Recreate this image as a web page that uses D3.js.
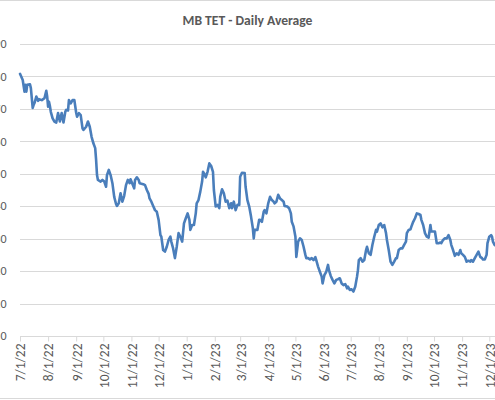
<!DOCTYPE html>
<html>
<head>
<meta charset="utf-8">
<script src="https://cdn.jsdelivr.net/npm/d3@7"></script>
<style>
  html, body { margin: 0; padding: 0; background: #fff; }
  #chart { width: 495px; height: 400px; overflow: hidden; }
  text { font-family: Calibri, Carlito, "Liberation Sans", Arial, sans-serif; fill: #595959; }
</style>
</head>
<body>
<div id="chart"></div>
<script>
// chart data
const title = "MB TET - Daily Average";

const dates = [
  "7/1/22","7/4/22","7/6/22","7/7/22","7/8/22","7/9/22","7/12/22","7/13/22","7/15/22","7/16/22",
  "7/17/22","7/19/22","7/21/22","7/22/22","7/25/22","7/28/22","7/30/22","7/31/22","8/1/22","8/2/22",
  "8/3/22","8/4/22","8/6/22","8/8/22","8/10/22","8/12/22","8/14/22","8/16/22","8/18/22","8/20/22",
  "8/21/22","8/23/22","8/24/22","8/26/22","8/28/22","8/30/22","9/1/22","9/2/22","9/4/22","9/6/22",
  "9/8/22","9/9/22","9/12/22","9/14/22","9/16/22","9/18/22","9/20/22","9/22/22","9/23/22","9/24/22",
  "9/25/22","9/28/22","9/30/22","10/2/22","10/4/22","10/5/22","10/7/22","10/9/22","10/11/22","10/13/22",
  "10/15/22","10/16/22","10/18/22","10/20/22","10/22/22","10/24/22","10/26/22","10/28/22","10/30/22","10/31/22",
  "11/2/22","11/4/22","11/5/22","11/7/22","11/9/22","11/10/22","11/14/22","11/16/22","11/18/22","11/20/22",
  "11/21/22","11/23/22","11/25/22","11/27/22","11/29/22","12/1/22","12/3/22","12/4/22","12/6/22","12/8/22",
  "12/10/22","12/12/22","12/14/22","12/15/22","12/17/22","12/19/22","12/21/22","12/23/22","12/25/22","12/27/22",
  "12/29/22","12/31/22","1/2/23","1/4/23","1/5/23","1/7/23","1/9/23","1/11/23","1/12/23","1/14/23",
  "1/16/23","1/18/23","1/19/23","1/20/23","1/22/23","1/24/23","1/26/23","1/28/23","1/30/23","1/31/23",
  "2/2/23","2/4/23","2/6/23","2/7/23","2/9/23","2/11/23","2/13/23","2/15/23","2/17/23","2/19/23",
  "2/20/23","2/22/23","2/24/23","2/26/23","2/28/23","3/1/23","3/3/23","3/6/23","3/7/23","3/9/23",
  "3/11/23","3/13/23","3/15/23","3/16/23","3/17/23","3/20/23","3/22/23","3/23/23","3/25/23","3/27/23",
  "3/28/23","3/30/23","4/1/23","4/3/23","4/5/23","4/7/23","4/8/23","4/10/23","4/12/23","4/14/23",
  "4/16/23","4/18/23","4/19/23","4/22/23","4/24/23","4/26/23","4/27/23","4/29/23","5/1/23","5/2/23",
  "5/4/23","5/6/23","5/8/23","5/10/23","5/12/23","5/13/23","5/15/23","5/17/23","5/19/23","5/21/23",
  "5/23/23","5/24/23","5/26/23","5/28/23","5/30/23","5/31/23","6/2/23","6/4/23","6/6/23","6/7/23",
  "6/9/23","6/11/23","6/13/23","6/15/23","6/17/23","6/19/23","6/21/23","6/23/23","6/25/23","6/27/23",
  "6/28/23","6/30/23","7/2/23","7/4/23","7/6/23","7/8/23","7/9/23","7/10/23","7/12/23","7/14/23",
  "7/16/23","7/18/23","7/19/23","7/21/23","7/23/23","7/25/23","7/27/23","7/29/23","7/30/23","8/1/23",
  "8/3/23","8/5/23","8/7/23","8/9/23","8/10/23","8/12/23","8/14/23","8/16/23","8/18/23","8/20/23",
  "8/21/23","8/23/23","8/25/23","8/27/23","8/29/23","8/31/23","9/1/23","9/3/23","9/5/23","9/6/23",
  "9/8/23","9/10/23","9/12/23","9/14/23","9/16/23","9/17/23","9/19/23","9/21/23","9/23/23","9/25/23",
  "9/27/23","9/28/23","9/30/23","10/2/23","10/4/23","10/6/23","10/8/23","10/9/23","10/11/23","10/13/23",
  "10/15/23","10/17/23","10/19/23","10/20/23","10/22/23","10/24/23","10/26/23","10/28/23","10/30/23","10/31/23",
  "11/2/23","11/4/23","11/6/23","11/8/23","11/10/23","11/11/23","11/13/23","11/15/23","11/17/23","11/19/23",
  "11/21/23","11/23/23","11/24/23","11/26/23","11/28/23","11/29/23","12/1/23","12/3/23","12/4/23","12/5/23",
  "12/7/23"
];

const values = [
  80.8,78.9,75.3,77.4,75.3,77.4,77.6,76.4,70.3,71.2,
  71.8,73.8,72.5,73.0,72.7,73.3,75.6,73.8,70.7,72.2,
  70.9,69.1,67.1,66.1,65.8,68.7,66.1,68.7,65.8,69.1,
  69.7,69.5,72.7,71.7,72.7,72.7,68.8,67.6,68.7,68.1,
  64.0,63.5,64.5,66.1,64.5,61.4,59.4,57.9,54.3,49.6,
  48.1,47.6,48.1,47.6,46.0,49.6,51.2,49.6,47.1,42.9,
  40.7,40.1,40.9,44.0,41.4,43.2,46.5,48.1,47.1,48.3,
  46.9,45.5,48.1,48.9,48.1,47.1,46.8,46.5,45.0,43.8,
  42.4,41.4,40.1,38.8,38.3,35.8,31.1,30.6,26.5,26.0,
  27.5,29.6,30.6,29.1,27.0,24.0,27.5,31.7,30.6,29.1,
  34.7,36.3,37.8,35.8,32.7,34.2,34.2,37.8,40.9,41.9,
  44.5,47.6,50.6,50.2,48.9,50.6,53.2,52.4,50.6,45.0,
  39.9,40.4,39.4,42.9,45.2,44.0,41.4,41.7,39.4,40.9,
  39.4,41.4,38.8,40.4,40.4,49.1,50.3,50.2,46.0,41.9,
  39.9,36.8,33.2,30.1,32.7,32.7,35.8,35.8,35.2,38.3,
  38.8,37.8,40.9,42.9,41.9,41.4,40.9,41.4,43.5,42.4,
  41.9,41.4,40.1,39.9,39.4,37.8,35.2,33.7,30.6,24.4,
  29.1,30.1,29.6,27.5,25.0,24.0,24.0,23.6,24.0,23.4,
  24.3,23.4,21.4,19.8,18.3,16.2,18.8,19.8,21.9,20.3,
  18.5,17.3,16.2,17.3,17.5,17.8,16.2,15.7,16.0,14.7,
  15.2,14.2,14.4,13.7,15.2,18.3,20.3,23.4,24.0,22.9,
  23.4,26.5,27.5,25.5,25.0,28.1,30.6,32.7,32.2,34.2,
  34.7,33.5,34.2,31.7,29.6,26.5,22.9,21.9,22.9,24.0,
  24.0,26.5,27.0,27.0,28.1,29.1,31.7,32.7,32.9,33.7,
  35.2,36.3,37.8,37.6,37.3,35.8,34.2,31.7,30.6,30.3,
  34.2,32.2,32.2,32.2,28.6,28.6,28.8,28.6,29.6,30.1,
  30.1,31.1,29.6,28.1,26.5,24.7,25.5,25.0,26.5,25.5,
  25.0,24.4,22.9,23.2,22.9,23.4,22.9,24.0,25.0,26.0,
  24.4,24.0,23.6,23.6,25.0,28.6,30.6,31.1,30.6,29.1,
  28.0
];

const xTickLabels = ["7/1/22","8/1/22","9/1/22","10/1/22","11/1/22","12/1/22","1/1/23","2/1/23","3/1/23",
  "4/1/23","5/1/23","6/1/23","7/1/23","8/1/23","9/1/23","10/1/23","11/1/23","12/1/23"];
const yTicks = [0, 10, 20, 30, 40, 50, 60, 70, 80, 90];

const width = 495, height = 400;
const plotLeft = 20, plotTop = 44, plotBottom = 336;

const parse = d3.timeParse("%m/%d/%y");
const data = dates.map((d, i) => ({ date: parse(d), value: values[i] }));
const tickDates = xTickLabels.map(parse);

const svg = d3.select("#chart").append("svg")
  .attr("width", width)
  .attr("height", height);

// chart border (only top and bottom edges are inside the frame)
svg.append("line").attr("x1", 0).attr("x2", width).attr("y1", 0.5).attr("y2", 0.5)
  .attr("stroke", "#d9d9d9");
svg.append("line").attr("x1", 0).attr("x2", width).attr("y1", 398.5).attr("y2", 398.5)
  .attr("stroke", "#d9d9d9");

const x = d3.scaleTime()
  .domain([tickDates[0], tickDates[tickDates.length - 1]])
  .range([plotLeft, 489.3]);

const y = d3.scaleLinear()
  .domain([0, 90])
  .range([plotBottom, plotTop]);

// title
svg.append("text")
  .attr("x", 247.5)
  .attr("y", 25)
  .attr("text-anchor", "middle")
  .style("font-size", "13.6px")
  .style("font-weight", "bold")
  .text(title);

// horizontal gridlines
svg.append("g")
  .selectAll("line")
  .data(yTicks.slice(1))
  .enter()
  .append("line")
  .attr("x1", plotLeft)
  .attr("x2", width)
  .attr("y1", d => Math.round(y(d)) + 0.5)
  .attr("y2", d => Math.round(y(d)) + 0.5)
  .attr("stroke", "#d9d9d9")
  .attr("stroke-width", 1);

// y axis labels: the frame cuts them at the left edge, only the last digit shows
svg.append("g")
  .selectAll("text")
  .data(yTicks)
  .enter()
  .append("text")
  .attr("x", 6.5)
  .attr("y", d => y(d))
  .attr("dy", "0.35em")
  .attr("text-anchor", "end")
  .style("font-size", "12px")
  .text(d => d);

// x axis
const xAxis = d3.axisBottom(x)
  .tickValues(tickDates)
  .tickSize(5)
  .tickFormat(d3.timeFormat("%-m/%-d/%y"));

const gx = svg.append("g")
  .attr("transform", `translate(0, ${plotBottom + 0.5})`)
  .call(xAxis);

gx.select(".domain").remove();
gx.append("line")
  .attr("x1", plotLeft)
  .attr("x2", width)
  .attr("stroke", "#d9d9d9");
gx.selectAll(".tick line").attr("stroke", "#d9d9d9");
gx.selectAll(".tick text")
  .attr("transform", "rotate(-90)")
  .attr("x", -7)
  .attr("y", 0)
  .attr("dy", "0.36em")
  .attr("text-anchor", "end")
  .style("font-family", "Calibri, Carlito, 'Liberation Sans', Arial, sans-serif")
  .style("font-size", "13.5px")
  .attr("fill", "#595959");

// the series line
const line = d3.line()
  .x(d => x(d.date))
  .y(d => y(d.value));

svg.append("path")
  .datum(data)
  .attr("fill", "none")
  .attr("stroke", "#4a7ebb")
  .attr("stroke-width", 2.6)
  .attr("stroke-linejoin", "round")
  .attr("stroke-linecap", "round")
  .attr("d", line);
</script>
</body>
</html>
